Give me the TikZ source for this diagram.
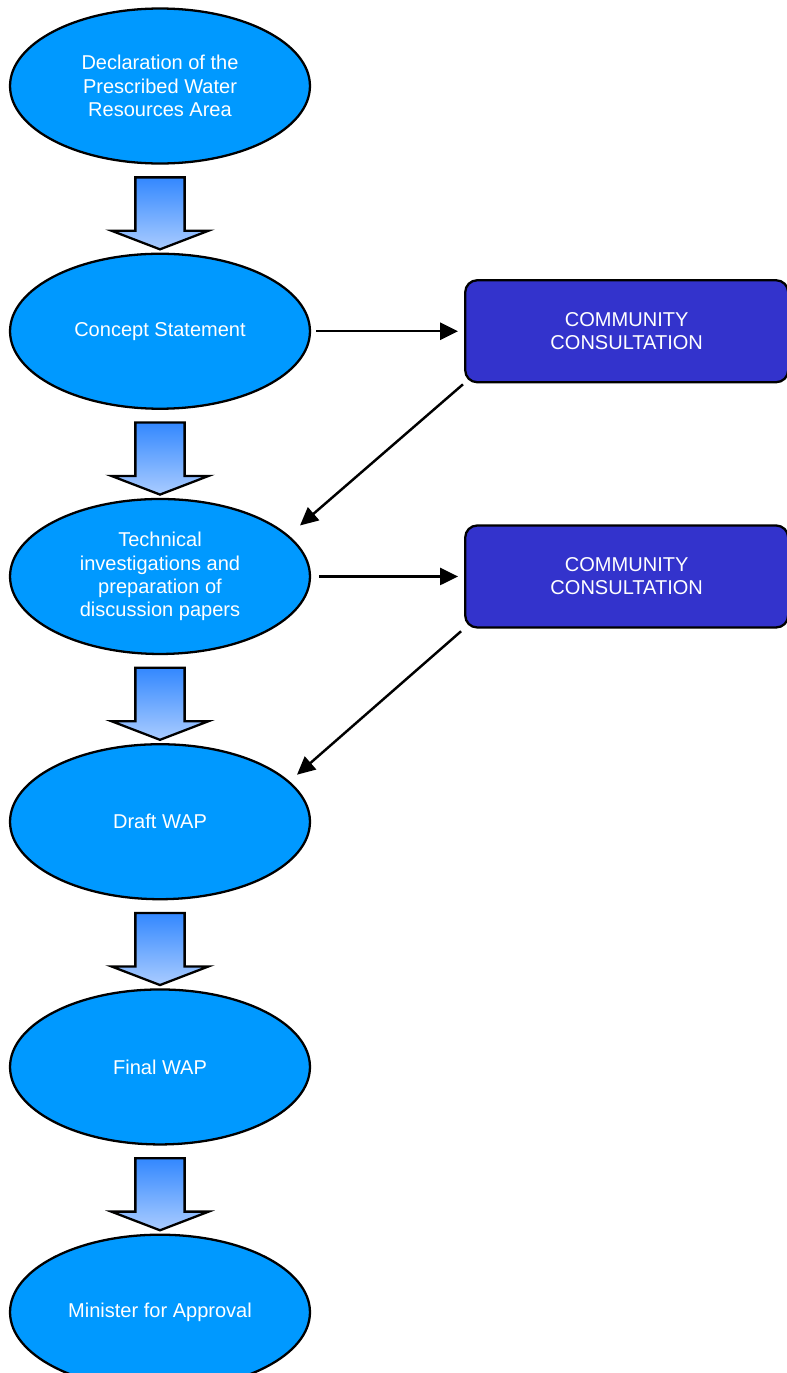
\documentclass[tikz,border=0pt]{standalone}
\usepackage{fontspec}
\setmainfont{Liberation Sans}
\usetikzlibrary{arrows.meta,positioning,shapes.geometric,shapes.arrows,calc}
\definecolor{phaseblue}{RGB}{0,153,255}
\definecolor{consultblue}{RGB}{51,51,204}
\definecolor{arrtop}{RGB}{51,136,255}
\definecolor{arrbot}{RGB}{170,204,255}

\begin{document}
\begin{tikzpicture}[
  x=0.02cm, y=-0.02cm,
  node distance=1.76cm,
  phase/.style={ellipse, draw, line width=1.3pt, fill=phaseblue, minimum width=6cm, minimum height=3.1cm, inner sep=0pt, text=white, align=center, font=\fontsize{11.4}{13.2}\selectfont},
  consult/.style={rectangle, draw, line width=1.3pt, rounded corners=0.24cm, fill=consultblue, minimum width=6.46cm, minimum height=2.04cm, text=white, align=center, font=\fontsize{11.4}{13.2}\selectfont},
  flowarrow/.style={single arrow, draw, line width=1.3pt, rotate=-90, minimum height=1.44cm, inner xsep=0pt, inner ysep=0.47cm, text height=0pt, text depth=0pt, single arrow head extend=0.48cm, single arrow tip angle=138, top color=arrtop, bottom color=arrbot},
  arr/.style={-{Triangle[length=0.36cm, width=0.34cm]}, line width=1.4pt},
]
\useasboundingbox (0,0) rectangle (787,1373);
\node[phase] (decl) at (160,86) {Declaration of the\\Prescribed Water\\Resources Area};
\node[phase, below=of decl] (concept) {Concept Statement};
\node[phase, below=of concept] (tech) {Technical\\investigations and\\preparation of\\discussion papers};
\node[phase, below=of tech] (draft) {Draft WAP};
\node[phase, below=of draft] (final) {Final WAP};
\node[phase, below=of final] (minister) {Minister for Approval};
\node[consult, right=3.06cm of concept] (cons1) {COMMUNITY\\CONSULTATION};
\node[consult, right=3.06cm of tech] (cons2) {COMMUNITY\\CONSULTATION};
% block arrows between the stages
\node[flowarrow] (a1) at ($(decl.south)!0.5!(concept.north)$) {};
\node[flowarrow] (a2) at ($(concept.south)!0.5!(tech.north)$) {};
\node[flowarrow] (a3) at ($(tech.south)!0.5!(draft.north)$) {};
\node[flowarrow] (a4) at ($(draft.south)!0.5!(final.north)$) {};
\node[flowarrow] (a5) at ($(final.south)!0.5!(minister.north)$) {};
\coordinate (tech-in) at ([shift={(140,-51)}]tech.center);
\coordinate (draft-in) at ([shift={(137,-47)}]draft.center);
\draw[arr, shorten <=0.1cm, shorten >=0.12cm] (concept) -- (cons1);
\draw[arr, shorten <=0.16cm, shorten >=0.12cm] (tech) -- (cons2);
\draw[arr, shorten <=0.03cm] (cons1.south west) -- (tech-in);
\draw[arr, shorten <=0.08cm] (cons2.south west) -- (draft-in);
\end{tikzpicture}
\end{document}
